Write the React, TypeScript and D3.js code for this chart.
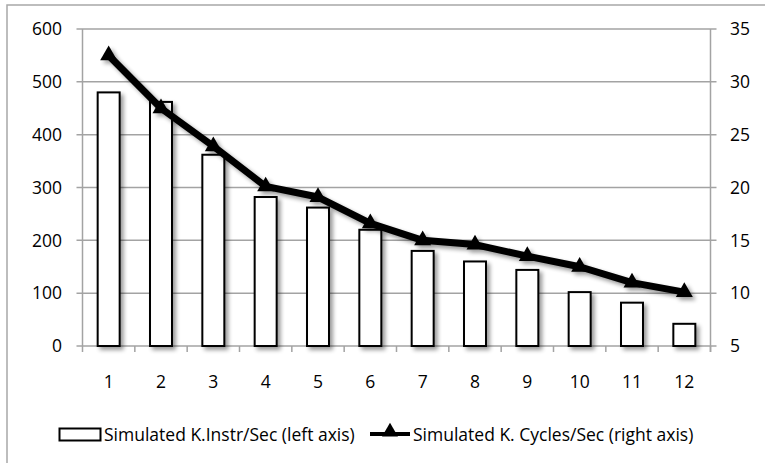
import React from "react";
import * as d3 from "d3";

const categories = ["1", "2", "3", "4", "5", "6", "7", "8", "9", "10", "11", "12"];
const instrPerSec = [480, 462, 362, 282, 262, 220, 180, 160, 144, 102, 82, 42];
const cyclesPerSec = [32.5, 27.5, 23.9, 20.1, 19.1, 16.6, 15.0, 14.6, 13.5, 12.5, 11.0, 10.1];
const leftTicks = [0, 100, 200, 300, 400, 500, 600];
const rightTicks = [5, 10, 15, 20, 25, 30, 35];
const barLabel = "Simulated K.Instr/Sec (left axis)";
const lineLabel = "Simulated K. Cycles/Sec (right axis)";

const W = 765;
const H = 463;
const plot = { left: 82.5, right: 710.5, top: 29, bottom: 346 };
const FONT = "'Open Sans', 'Noto Sans', sans-serif";
const GRID = "#a3a3a3";
const FS = 17.5;

export default function App() {
  const x = d3.scaleBand<string>().domain(categories).range([plot.left, plot.right]).paddingInner(0.58).paddingOuter(0.29);
  const xb = d3.scaleBand<string>().domain(categories).range([plot.left, plot.right]);
  const yL = d3.scaleLinear().domain([0, 600]).range([plot.bottom, plot.top]);
  const yR = d3.scaleLinear().domain([5, 35]).range([plot.bottom, plot.top]);
  const line = d3
    .line<number>()
    .x((_, i) => (xb(categories[i]) as number) + xb.bandwidth() / 2)
    .y((d) => yR(d));
  const tri = d3.symbol().type(d3.symbolTriangle).size(125)() as string;
  const triSmall = d3.symbol().type(d3.symbolTriangle).size(110)() as string;
  const boundaries = categories.map((c) => xb(c) as number).concat([plot.right]);

  return (
    <svg width={W} height={H} style={{ position: "absolute", left: 0, top: 0, background: "#fff" }} fontFamily={FONT}>
      <defs>
        <filter id="shadow" x="-20%" y="-20%" width="140%" height="140%">
          <feGaussianBlur in="SourceAlpha" stdDeviation="2" />
          <feOffset dx="2.5" dy="3" result="ob" />
          <feComponentTransfer>
            <feFuncA type="linear" slope="0.4" />
          </feComponentTransfer>
          <feMerge>
            <feMergeNode />
            <feMergeNode in="SourceGraphic" />
          </feMerge>
        </filter>
      </defs>
      <rect x={7} y={5} width={W + 10} height={H + 10} fill="#fff" stroke="#a8a8a8" strokeWidth={1.5} />
      {/* gridlines */}
      {leftTicks.map((t) => (
        <line key={"g" + t} x1={plot.left - 6} x2={plot.right + 6} y1={yL(t)} y2={yL(t)} stroke={GRID} strokeWidth={1.5} />
      ))}
      {/* axes */}
      <line x1={plot.left} x2={plot.left} y1={plot.top} y2={plot.bottom} stroke={GRID} strokeWidth={1.5} />
      <line x1={plot.right} x2={plot.right} y1={plot.top} y2={plot.bottom + 6} stroke={GRID} strokeWidth={1.5} />
      {boundaries.map((b, i) => (
        <line key={"xt" + i} x1={b} x2={b} y1={plot.bottom} y2={plot.bottom + 6} stroke={GRID} strokeWidth={1.5} />
      ))}
      {leftTicks.map((t) => (
        <text key={"lt" + t} x={62} y={yL(t)} dy="0.36em" textAnchor="end" fontSize={FS} fill="#000">
          {t}
        </text>
      ))}
      {rightTicks.map((t) => (
        <text key={"rt" + t} x={730} y={yR(t)} dy="0.36em" textAnchor="start" fontSize={FS} fill="#000">
          {t}
        </text>
      ))}
      {categories.map((c) => (
        <text key={"xl" + c} x={(xb(c) as number) + xb.bandwidth() / 2} y={382} dy="0.36em" textAnchor="middle" fontSize={FS} fill="#000">
          {c}
        </text>
      ))}
      {/* bars */}
      <g filter="url(#shadow)">
        {instrPerSec.map((v, i) => (
          <rect
            key={"b" + i}
            x={x(categories[i])}
            y={yL(v)}
            width={x.bandwidth()}
            height={yL(0) - yL(v)}
            fill="#fff"
            stroke="#000"
            strokeWidth={2}
          />
        ))}
      </g>
      {/* line */}
      <g filter="url(#shadow)">
        <path d={line(cyclesPerSec) as string} fill="none" stroke="#000" strokeWidth={7} strokeLinejoin="round" />
        {cyclesPerSec.map((v, i) => (
          <path
            key={"m" + i}
            d={tri}
            transform={`translate(${(xb(categories[i]) as number) + xb.bandwidth() / 2},${yR(v)})`}
            fill="#000"
          />
        ))}
      </g>
      {/* legend */}
      <rect x={59.5} y={428.5} width={41} height={12} fill="#fff" stroke="#000" strokeWidth={2} />
      <text x={104} y={435} dy="0.36em" fontSize={FS} fill="#000">
        {barLabel}
      </text>
      <line x1={370} x2={410} y1={434} y2={434} stroke="#000" strokeWidth={4} />
      <path d={triSmall} transform="translate(390,432)" fill="#000" />
      <text x={413} y={435} dy="0.36em" fontSize={FS} fill="#000">
        {lineLabel}
      </text>
    </svg>
  );
}
